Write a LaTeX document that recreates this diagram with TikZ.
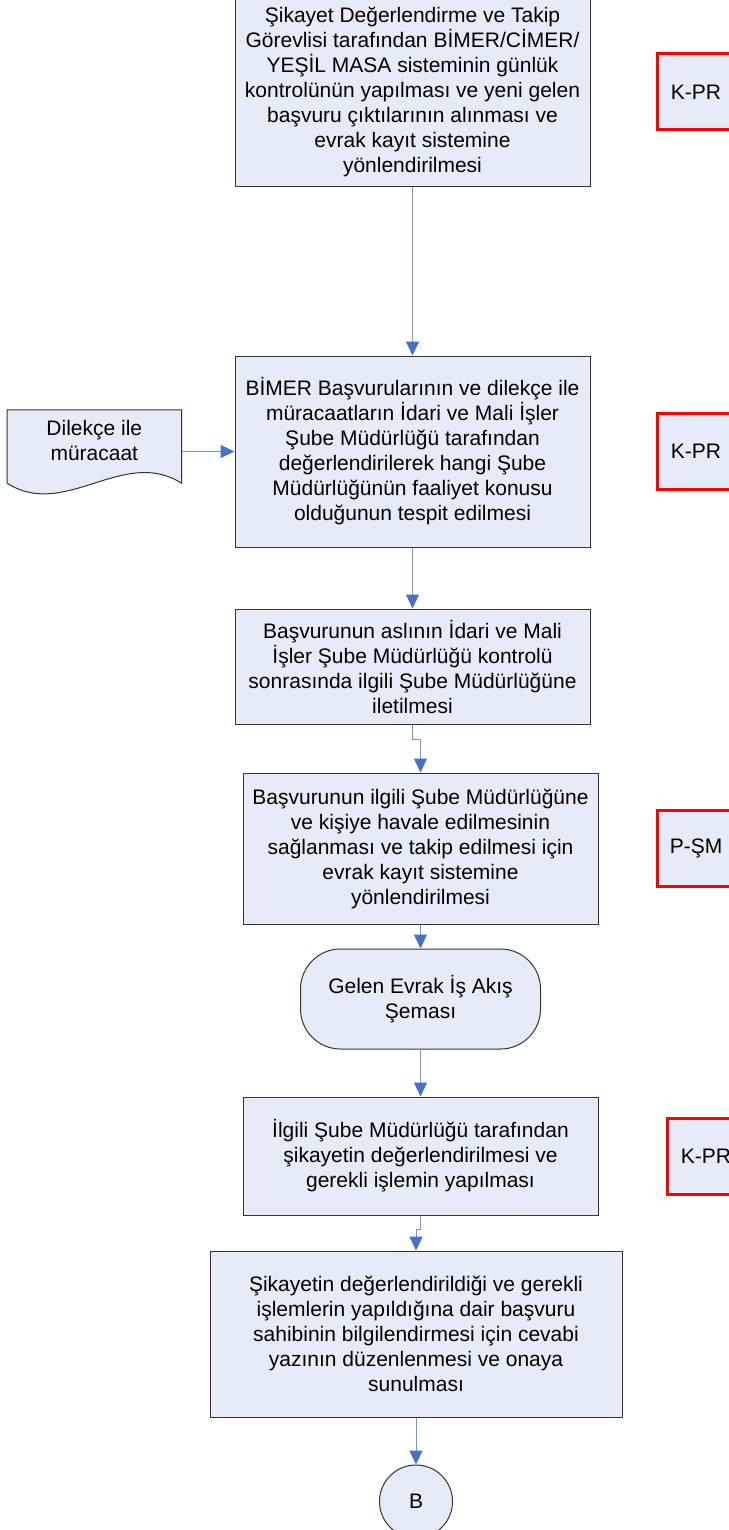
\documentclass[tikz,border=0pt]{standalone}
\usepackage{fontspec}
\setmainfont{Liberation Sans}
\usetikzlibrary{positioning,arrows.meta}

\definecolor{boxfill}{RGB}{230,236,247}
\definecolor{flowline}{RGB}{112,148,214}
\definecolor{flowhead}{RGB}{68,114,196}

\tikzset{
	process/.style={draw=black!80, fill=boxfill, line width=1pt, align=center, minimum width=355pt, inner sep=2pt},
	terminal/.style={process, rounded corners=40pt, minimum width=240pt, minimum height=100pt},
	refbox/.style={draw=red, line width=3pt, fill=boxfill, minimum width=78pt, minimum height=76pt},
	offpage/.style={circle, draw=black!80, fill=boxfill, line width=1pt, minimum size=73pt, inner sep=0pt},
	docshape/.style={minimum width=174pt, minimum height=83pt, inner sep=0pt},
	docline/.style={draw=black!80, fill=boxfill, line width=1pt},
	flow/.style={draw=flowline, line width=1pt, -{Triangle[width=13pt,length=14pt,color=flowhead,fill=flowhead]}}
}

\begin{document}
\begin{tikzpicture}[font=\fontsize{21pt}{25pt}\selectfont]
					
					\useasboundingbox (0,0) rectangle (728pt,-1530pt);
					
					\node[process, minimum height=190pt] at (412.5pt,-92pt) (kontrol) {Şikayet Değerlendirme ve Takip\\Görevlisi tarafından BİMER/CİMER/\\YEŞİL MASA sisteminin günlük\\kontrolünün yapılması ve yeni gelen\\başvuru çıktılarının alınması ve\\evrak kayıt sistemine\\yönlendirilmesi};
					\node[process, minimum height=191pt, below=168pt of kontrol] (degerlendir) {BİMER Başvurularının ve dilekçe ile\\müracaatların İdari ve Mali İşler\\Şube Müdürlüğü tarafından\\değerlendirilerek hangi Şube\\Müdürlüğünün faaliyet konusu\\olduğunun tespit edilmesi};
					\node[process, minimum height=115pt, below=61pt of degerlendir] (ilet) {Başvurunun aslının İdari ve Mali\\İşler Şube Müdürlüğü kontrolü\\sonrasında ilgili Şube Müdürlüğüne\\iletilmesi};
					\node[process, minimum height=151pt, below=48pt of ilet, xshift=8pt] (havale) {Başvurunun ilgili Şube Müdürlüğüne\\ve kişiye havale edilmesinin\\sağlanması ve takip edilmesi için\\evrak kayıt sistemine\\yönlendirilmesi};
					\node[terminal, below=24pt of havale] (gelen) {Gelen Evrak İş Akış\\Şeması};
					\node[process, minimum height=118pt, below=47pt of gelen] (islem) {İlgili Şube Müdürlüğü tarafından\\şikayetin değerlendirilmesi ve\\gerekli işlemin yapılması};
					\node[process, minimum width=412pt, minimum height=166pt, below=35pt of islem, xshift=-4.5pt] (cevap) {Şikayetin değerlendirildiği ve gerekli\\işlemlerin yapıldığına dair başvuru\\sahibinin bilgilendirmesi için cevabi\\yazının düzenlenmesi ve onaya\\sunulması};
					\node[offpage, below=47pt of cevap] (B) {B};
					
					\node[refbox, right=65pt of kontrol] (kpra) {K-PR};
					\node[refbox, right=65pt of degerlendir] (kprb) {K-PR};
					\node[refbox, right=57pt of havale] (psm) {P-ŞM};
					\node[refbox, right=67pt of islem] (kprc) {K-PR};
					
					\node[docshape, left=53pt of degerlendir] (dilekce) {};
					\draw[docline] ([yshift=10pt]dilekce.south west) -- (dilekce.north west) -- (dilekce.north east) -- ([yshift=10pt]dilekce.south east) .. controls +(-58pt,37pt) and +(58pt,-37pt) .. ([yshift=10pt]dilekce.south west) -- cycle;
					\node[align=center] at ([yshift=11pt]dilekce.center) (dilekcetext) {Dilekçe ile\\müracaat};
					
					\draw[flow] (kontrol) -- (degerlendir); %
					\draw[flow] (dilekce) -- (degerlendir); %
					\draw[flow] (degerlendir) -- (ilet); %
					\draw[flow] (ilet.south) -- ++(0,-15pt) -| (havale.north); %
					\draw[flow] (havale) -- (gelen); %
					\draw[flow] (gelen) -- (islem); %
					\draw[flow] (islem.south) -- ++(0,-14pt) -| (cevap.north); %
					\draw[flow] (cevap) -- (B); %
					
				\end{tikzpicture}
\end{document}
